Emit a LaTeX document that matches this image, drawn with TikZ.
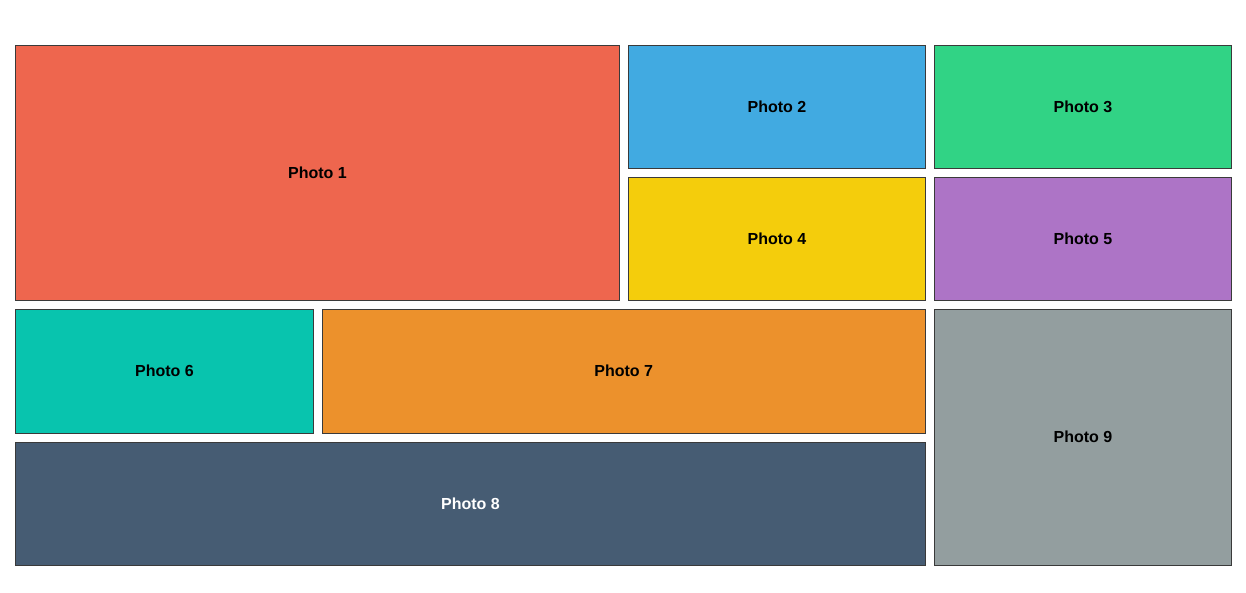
\documentclass[tikz,border=0pt]{standalone}
\usepackage{fontspec}
\setmainfont{Liberation Sans}
\definecolor{c1}{HTML}{EE664E}
\definecolor{c2}{HTML}{41AAE1}
\definecolor{c3}{HTML}{31D385}
\definecolor{c4}{HTML}{F4CD0C}
\definecolor{c5}{HTML}{AD74C6}
\definecolor{c6}{HTML}{08C4AE}
\definecolor{c7}{HTML}{EC912C}
\definecolor{c8}{HTML}{465C73}
\definecolor{c9}{HTML}{939E9F}
\definecolor{edge}{HTML}{3A3A3A}
\begin{document}
\begin{tikzpicture}[x=1pt,y=1pt,
  photo/.style={draw=edge, line width=1pt, rectangle, inner sep=0pt, outer sep=0pt,
    anchor=north west, font=\fontsize{16}{18}\selectfont\bfseries, text=black}]
\useasboundingbox[fill=white] (0,0) rectangle (1246,-593);
\node[photo, fill=c1, minimum width=604, minimum height=255] (p1) at (15.5,-45.5) {Photo 1};
\node[photo, fill=c2, minimum width=297, minimum height=123] (p2) at (628.5,-45.5) {Photo 2};
\node[photo, fill=c3, minimum width=297, minimum height=123] (p3) at (934.5,-45.5) {Photo 3};
\node[photo, fill=c4, minimum width=297, minimum height=123] (p4) at (628.5,-177.5) {Photo 4};
\node[photo, fill=c5, minimum width=297, minimum height=123] (p5) at (934.5,-177.5) {Photo 5};
\node[photo, fill=c6, minimum width=298, minimum height=123.5] (p6) at (15.5,-309.5) {Photo 6};
\node[photo, fill=c7, minimum width=603.5, minimum height=123.5] (p7) at (322,-309.5) {Photo 7};
\node[photo, fill=c8, minimum width=910, minimum height=123, text=white] (p8) at (15.5,-442) {Photo 8};
\node[photo, fill=c9, minimum width=297, minimum height=255.5] (p9) at (934.5,-309.5) {Photo 9};
\end{tikzpicture}
\end{document}
